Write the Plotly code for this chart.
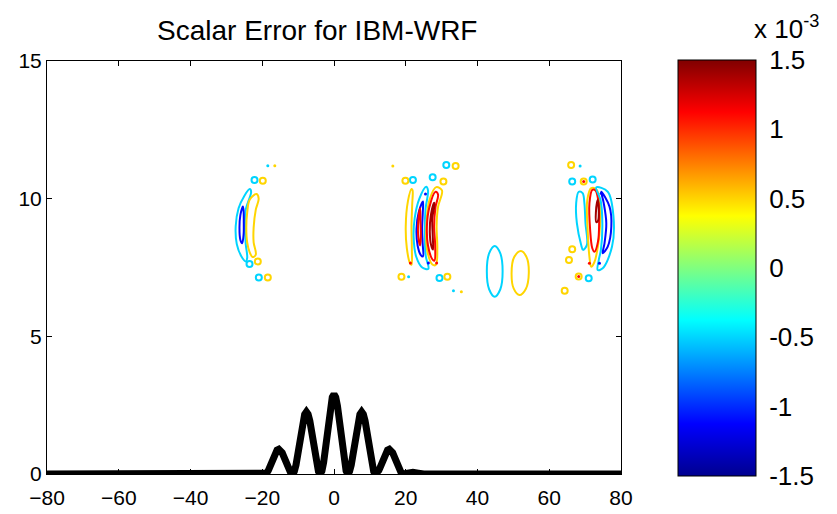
import plotly.graph_objects as go
from plotly.colors import sample_colorscale

# ---------------- data ----------------
JET = [[0.0, 'rgb(0,0,143)'], [0.125, 'rgb(0,0,255)'], [0.375, 'rgb(0,255,255)'],
       [0.625, 'rgb(255,255,0)'], [0.875, 'rgb(255,0,0)'], [1.0, 'rgb(128,0,0)']]
CMIN, CMAX = -1.5, 1.5          # colour range, units of 1e-3

x_ticks = [-80, -60, -40, -20, 0, 20, 40, 60, 80]
y_ticks = [0, 5, 10, 15]
cbar_ticks = [-1.5, -1, -0.5, 0, 0.5, 1, 1.5]
cbar_labels = ['-1.5', '-1', '-0.5', '0', '0.5', '1', '1.5']

# contour levels (x 1e-3)
LV_CYAN, LV_YELLOW, LV_BLUE, LV_RED, LV_DARKRED = -0.5, 0.5, -1.1, 1.1, 1.4

# terrain profile
terrain_x = [-80, -25, -23.5, -22, -20.5, -19.25, -18.77, -18.29, -17.81, -17.33, -16.84, -16.36, -15.88,
             -15.4, -14.92, -14.44, -13.96, -13.47, -12.99, -12.51, -12.03, -11.55, -11.07, -10.59, -10.11,
             -9.63, -9.14, -8.66, -8.18, -7.7, -7.22, -6.74, -6.26, -5.77, -5.29, -4.81, -4.33, -3.85,
             -3.37, -2.89, -2.41, -1.93, -1.44, -0.96, -0.48, 0,
             0.48, 0.96, 1.44, 1.93, 2.41, 2.89, 3.37, 3.85, 4.33, 4.81, 5.29, 5.77, 6.26, 6.74, 7.22, 7.7,
             8.18, 8.66, 9.14, 9.63, 10.11, 10.59, 11.07, 11.55, 12.03, 12.51, 12.99, 13.47, 13.96, 14.44,
             14.92, 15.4, 15.88, 16.36, 16.84, 17.33, 17.81, 18.29, 18.77, 19.25, 20.5, 22, 23.5, 25, 80]
terrain_y = [0, 0, 0.03, 0.06, 0.04, 0, 0.03, 0.13, 0.28, 0.45, 0.62, 0.77, 0.87,
             0.9, 0.87, 0.77, 0.62, 0.45, 0.28, 0.13, 0.03, 0, 0.09, 0.33, 0.70,
             1.13, 1.56, 1.93, 2.17, 2.26, 2.17, 1.93, 1.56, 1.13, 0.70, 0.33, 0.09, 0,
             0.11, 0.42, 0.9, 1.45, 2.0, 2.48, 2.79, 2.9,
             2.79, 2.48, 2.0, 1.45, 0.9, 0.42, 0.11, 0, 0.09, 0.33, 0.70, 1.13, 1.56, 1.93, 2.17, 2.26,
             2.17, 1.93, 1.56, 1.13, 0.70, 0.33, 0.09, 0, 0.03, 0.13, 0.28, 0.45, 0.62, 0.77,
             0.87, 0.9, 0.87, 0.77, 0.62, 0.45, 0.28, 0.13, 0.03, 0, 0.04, 0.06, 0.03, 0, 0]

# closed contour paths
left_cyan_x = [-23.5, -25.0, -26.6, -27.4, -27.1, -25.8, -24.6, -24.2, -24.6, -24.8, -24.6, -23.1]
left_cyan_y = [10.35, 10.1, 9.65, 9.0, 8.35, 7.9, 7.72, 7.85, 8.35, 9.0, 9.6, 10.25]
left_blue_x = [-25.4, -26.1, -26.35, -26.1, -25.6, -25.2, -25.15, -25.2]
left_blue_y = [9.72, 9.4, 8.95, 8.5, 8.38, 8.7, 9.15, 9.55]
left_yellow_x = [-21.6, -21.0, -21.8, -22.4, -22.4, -21.8, -22.7, -23.5, -24.2, -24.45, -24.2, -23.5]
left_yellow_y = [10.17, 10.0, 9.6, 8.95, 8.41, 7.97, 7.88, 8.05, 8.41, 8.95, 9.49, 9.96]

mid_yellow_l_x = [21.6, 20.6, 20.0, 20.3, 21.2, 21.6, 21.7, 21.6, 21.8, 21.9]
mid_yellow_l_y = [10.35, 9.9, 9.0, 8.2, 7.65, 7.6, 8.2, 9.0, 9.8, 10.3]
mid_cyan_x = [25.7, 23.8, 22.5, 22.2, 22.9, 24.6, 26.3, 25.6, 25.3, 25.5, 26.2]
mid_cyan_y = [10.43, 10.0, 9.3, 8.6, 7.9, 7.5, 7.45, 7.9, 8.7, 9.6, 10.3]
mid_blue_x = [24.8, 23.6, 23.0, 23.3, 24.2, 24.8, 24.7, 24.55, 24.75]
mid_blue_y = [9.9, 9.5, 8.9, 8.3, 7.95, 7.9, 8.4, 8.9, 9.5]
mid_red_s_x = [24.0, 23.5, 23.5, 24.0, 24.2, 24.1]
mid_red_s_y = [9.65, 9.2, 8.6, 8.3, 8.6, 9.2]
mid_red_x = [28.3, 26.6, 25.9, 26.2, 27.4, 28.0, 28.2, 27.9, 28.3, 29.0]
mid_red_y = [10.25, 9.7, 9.0, 8.3, 7.8, 7.75, 8.3, 9.0, 9.7, 10.15]
mid_darkred_x = [27.9, 27.0, 26.7, 27.1, 27.6, 27.5, 27.4, 28.0]
mid_darkred_y = [9.85, 9.4, 8.8, 8.3, 8.15, 8.7, 9.3, 9.75]
mid_yellow_r_x = [28.5, 26.6, 25.75, 26.0, 27.5, 28.4, 28.8, 28.6, 29.0, 30.1]
mid_yellow_r_y = [10.42, 9.95, 9.0, 8.1, 7.6, 7.6, 8.2, 9.0, 9.7, 10.3]

right_cyan_l_x = [68.2, 67.5, 67.7, 68.9, 69.4, 70.5, 70.1, 69.8, 69.3]
right_cyan_l_y = [10.25, 9.83, 9.11, 8.32, 8.14, 8.32, 9.11, 9.83, 10.2]
right_yellow_x = [71.7, 70.6, 70.75, 71.2, 71.7, 72.6, 73.6, 74.2, 74.1, 73.1]
right_yellow_y = [10.38, 9.95, 8.75, 7.89, 7.53, 7.7, 8.3, 9.1, 9.9, 10.34]
right_red_x = [72.0, 71.2, 71.4, 72.0, 72.6, 73.6, 73.9, 73.7, 72.9]
right_red_y = [10.32, 9.83, 8.86, 8.2, 8.07, 8.45, 9.11, 9.9, 10.3]
right_darkred_x = [73.5, 73.0, 73.1, 73.6, 73.8]
right_darkred_y = [9.95, 9.5, 9.15, 9.2, 9.6]
right_blue_x = [74.5, 76.8, 77.3, 76.3, 74.9, 75.4, 75.9, 75.2]
right_blue_y = [10.25, 9.71, 8.98, 8.26, 8.02, 8.38, 9.11, 9.83]
right_cyan_r_x = [73.1, 76.3, 77.9, 77.5, 74.9, 73.5, 73.8, 74.4, 74.8, 74.3]
right_cyan_r_y = [10.41, 10.25, 9.35, 8.26, 7.47, 7.41, 7.77, 8.14, 9.11, 9.95]

ell_cyan_x = [44.8, 46.36, 47.0, 46.36, 44.8, 43.24, 42.6, 43.24]
ell_cyan_y = [8.28, 8.01, 7.36, 6.71, 6.44, 6.71, 7.36, 8.01]
ell_yellow_x = [52.1, 53.7, 54.3, 53.5, 51.7, 50.1, 49.5, 50.2]
ell_yellow_y = [8.1, 7.87, 7.3, 6.73, 6.5, 6.73, 7.3, 7.87]

# tiny closed contours
cyan_loop_x = [-22.16, -23.55, -20.96, 31.3, 22.0, 27.5, 29.4, 66.4, 72.1, 71.0]
cyan_loop_y = [10.68, 7.63, 7.14, 11.22, 10.68, 10.78, 7.12, 10.62, 10.7, 7.11]
cyan_dot_x = [-18.45, 20.8, 33.3, 68.6]
cyan_dot_y = [11.2, 7.16, 6.66, 11.19]
yellow_loop_x = [-19.85, -21.24, -18.45, 33.9, 19.9, 30.5, 31.6, 18.8, 66.1, 69.6, 68.2, 66.4, 65.5, 64.3]
yellow_loop_y = [10.65, 7.72, 7.14, 11.19, 10.65, 10.62, 7.16, 7.16, 11.22, 10.62, 7.17, 8.16, 7.77, 6.66]
yellow_dot_x = [-16.5, 16.4, 35.5]
yellow_dot_y = [11.2, 11.19, 6.62]
blue_dot_x = [25.5, 26.3, 74.5, 74.0]
blue_dot_y = [10.17, 7.66, 10.2, 7.65]
red_dot_x = [21.3, 28.6, 69.6, 71.2, 68.2]
red_dot_y = [7.66, 7.66, 10.62, 7.65, 7.17]

paths = [
    (LV_CYAN, left_cyan_x, left_cyan_y), (LV_BLUE, left_blue_x, left_blue_y),
    (LV_YELLOW, left_yellow_x, left_yellow_y),
    (LV_YELLOW, mid_yellow_l_x, mid_yellow_l_y), (LV_CYAN, mid_cyan_x, mid_cyan_y),
    (LV_BLUE, mid_blue_x, mid_blue_y), (LV_RED, mid_red_s_x, mid_red_s_y),
    (LV_YELLOW, mid_yellow_r_x, mid_yellow_r_y), (LV_RED, mid_red_x, mid_red_y),
    (LV_DARKRED, mid_darkred_x, mid_darkred_y),
    (LV_CYAN, right_cyan_l_x, right_cyan_l_y), (LV_YELLOW, right_yellow_x, right_yellow_y),
    (LV_RED, right_red_x, right_red_y), (LV_DARKRED, right_darkred_x, right_darkred_y),
    (LV_CYAN, right_cyan_r_x, right_cyan_r_y), (LV_BLUE, right_blue_x, right_blue_y),
    (LV_CYAN, ell_cyan_x, ell_cyan_y), (LV_YELLOW, ell_yellow_x, ell_yellow_y),
]


def level_color(v):
    return sample_colorscale(JET, [(v - CMIN) / (CMAX - CMIN)])[0]


fig = go.Figure()

for lv, xs, ys in paths:
    fig.add_trace(go.Scatter(x=xs + xs[:1], y=ys + ys[:1], mode='lines',
                             line=dict(color=level_color(lv), width=2, shape='spline', smoothing=1.0),
                             hoverinfo='skip', showlegend=False))

for lv, xs, ys, sym, sz in [
    (LV_CYAN, cyan_loop_x, cyan_loop_y, 'circle-open', 6),
    (LV_YELLOW, yellow_loop_x, yellow_loop_y, 'circle-open', 6),
    (LV_CYAN, cyan_dot_x, cyan_dot_y, 'circle', 3),
    (LV_YELLOW, yellow_dot_x, yellow_dot_y, 'circle', 3),
    (LV_BLUE, blue_dot_x, blue_dot_y, 'circle', 3),
    (LV_RED, red_dot_x, red_dot_y, 'circle', 3),
]:
    fig.add_trace(go.Scatter(x=xs, y=ys, mode='markers',
                             marker=dict(symbol=sym, size=sz, color=level_color(lv),
                                         line=dict(color=level_color(lv), width=2 if 'open' in sym else 0)),
                             hoverinfo='skip', showlegend=False))

fig.add_trace(go.Scatter(x=terrain_x, y=terrain_y, mode='lines',
                         line=dict(color='black', width=7), hoverinfo='skip', showlegend=False))

# colour bar
fig.add_trace(go.Scatter(
    x=[None], y=[None], mode='markers', showlegend=False, hoverinfo='skip',
    marker=dict(color=[CMIN, CMAX], cmin=CMIN, cmax=CMAX, colorscale=JET, showscale=True,
                colorbar=dict(x=1.099, xanchor='left', xpad=0, ypad=0, y=0.4988, yanchor='middle',
                              len=1.007, lenmode='fraction', thickness=78, thicknessmode='pixels',
                              outlinecolor='black', outlinewidth=1,
                              tickvals=cbar_ticks, ticktext=cbar_labels,
                              ticks='outside', ticklen=8, tickcolor='rgba(0,0,0,0)',
                              tickfont=dict(family='Liberation Sans, Arial', size=26, color='black')))))

# the page adds an 8px body margin, so the plot box is placed 8px up/left in figure coordinates
FONT = dict(family='Liberation Sans, Arial', size=21, color='black')
fig.update_layout(
    width=837, height=514,
    margin=dict(l=39, r=224, t=53, b=48, autoexpand=False),
    paper_bgcolor='white', plot_bgcolor='white',
    font=FONT,
    xaxis=dict(range=[-80, 80], tickvals=x_ticks, ticks='inside', ticklen=5, tickcolor='black',
               showline=True, linecolor='black', linewidth=1, mirror='ticks', automargin=False,
               ticklabelstandoff=5,
               showgrid=False, zeroline=False, tickfont=FONT),
    yaxis=dict(range=[0, 15], tickvals=y_ticks, ticks='inside', ticklen=5, tickcolor='black',
               showline=True, linecolor='black', linewidth=1, mirror='ticks', automargin=False,
               showgrid=False, zeroline=False, tickfont=FONT),
    annotations=[
        dict(text='Scalar Error for IBM-WRF', xref='paper', yref='paper', x=0.471, y=1.075,
             xanchor='center', yanchor='middle', showarrow=False,
             font=dict(family='Liberation Sans, Arial', size=28, color='black')),
        dict(text='x 10<sup>-3</sup>', xref='paper', yref='paper', x=1.228, y=1.08,
             xanchor='left', yanchor='middle', showarrow=False,
             font=dict(family='Liberation Sans, Arial', size=26, color='black')),
    ],
)

fig.write_html('out.html')
